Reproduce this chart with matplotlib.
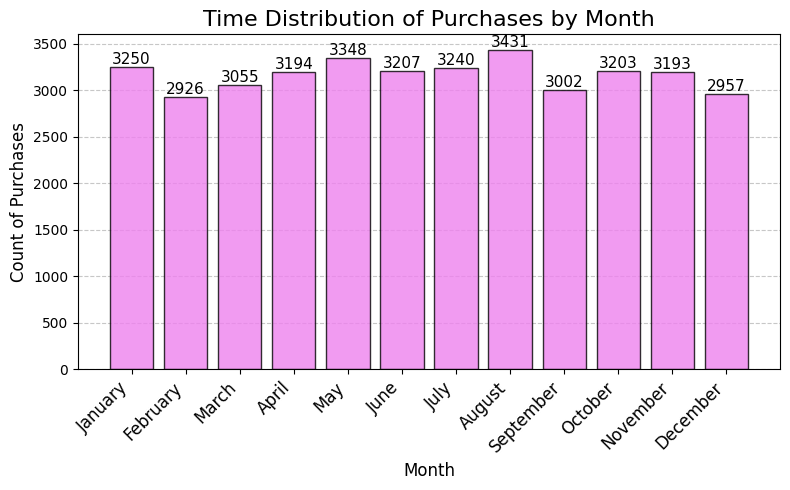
import matplotlib
matplotlib.use("Agg")
import matplotlib.pyplot as plt

months = ["January", "February", "March", "April", "May", "June", "July",
          "August", "September", "October", "November", "December"]
counts = [3250, 2926, 3055, 3194, 3348, 3207, 3240, 3431, 3002, 3203, 3193, 2957]

fig, ax = plt.subplots(figsize=(7.9, 4.9), dpi=100)
bars = ax.bar(months, counts, color="violet", edgecolor="black", alpha=0.8)
for b, v in zip(bars, counts):
    ax.text(b.get_x() + b.get_width() / 2, b.get_height(), str(v),
            ha="center", va="bottom", fontsize=11)
ax.set_title("Time Distribution of Purchases by Month", fontsize=16)
ax.set_xlabel("Month", fontsize=12)
ax.set_ylabel("Count of Purchases", fontsize=12)
plt.xticks(rotation=45, ha="right", fontsize=12)
ax.grid(axis="y", linestyle="--", alpha=0.7)
ax.set_axisbelow(True)
fig.subplots_adjust(left=78/790, right=780/790, top=1-34/490, bottom=1-369/490)
plt.savefig("out.png")
